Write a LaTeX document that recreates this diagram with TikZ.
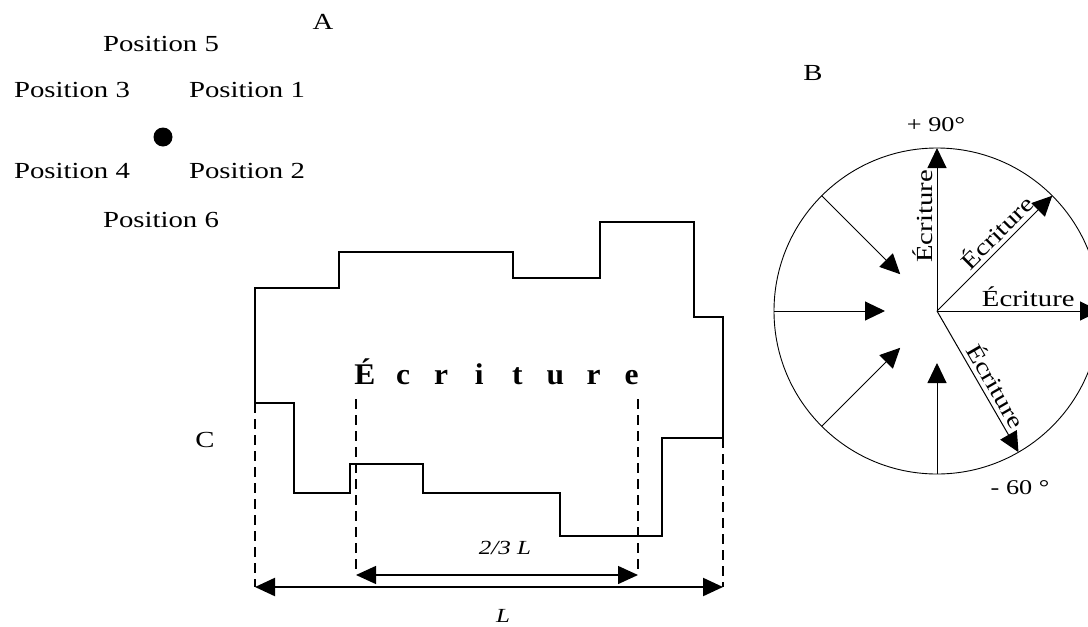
\documentclass[tikz,border=0pt]{standalone}
\usepackage{fontspec}
\setmainfont{Liberation Serif}[FakeStretch=1.25]
\newfontfamily\widefont{Liberation Serif}[FakeStretch=1.05]
\usetikzlibrary{arrows.meta}
\tikzset{
  tip/.style={-{Triangle[length=20pt,width=19pt]}, line width=1pt},
  dimarr/.style={{Triangle[length=20pt,width=18pt]}-{Triangle[length=20pt,width=18pt]}},
  cut/.style={dash pattern=on 10pt off 6pt, line width=1.3pt},
  every node/.style={font=\fontsize{23}{27}\selectfont, inner sep=1pt}}

\begin{document}
\begin{tikzpicture}[x=1pt,y=-1pt]
\useasboundingbox (0,0) rectangle (1088,627);
  \node (A) at (323,22) {A};
      \node (B) at (813,73) {B};
  \node (C) at (205,440) {C};
    \node (p5) at (161,44) {Position 5};
    \node (p3) at (72,90) {Position 3};
    \node (p1) at (247,90) {Position 1};
    \node (p4) at (72,171) {Position 4};
    \node (p2) at (247,171) {Position 2};
    \node (p6) at (161,220) {Position 6};
        \coordinate (dot) at (163,137);
    \fill (dot) circle (9.5);
  \draw[line width=1.6pt] (255,288) -- (339,288) -- (339,252) -- (513,252) -- (513,278)
     -- (600,278) -- (600,222) -- (694,222) -- (694,317) -- (723,317) -- (723,438)
     -- (662,438) -- (662,536) -- (560,536) -- (560,493) -- (423,493) -- (423,464)
     -- (350,464) -- (350,493) -- (294,493) -- (294,403) -- (255,403) -- cycle;
  \foreach \ch [count=\i] in {É,c,r,i,t,u,r,e}
     \node[anchor=base, font=\widefont\bfseries\fontsize{30}{33}\selectfont] (w\i) at ({365+(\i-1)*38.1},384) {\ch};
    \coordinate (la) at (255,587);
    \coordinate (lb) at (723,587);
    \coordinate (ma) at (356,575);
    \coordinate (mb) at (638,575);
        \draw[cut] (255,403) -- (la);
        \draw[cut] (356,399) -- (ma);
        \draw[cut] (638,399) -- (mb);
        \draw[cut] (723,438) -- (lb);
  \draw[dimarr, line width=2.2pt] (la) -- (lb);
  \draw[dimarr, line width=1.4pt] (ma) -- (mb);
  \node[font=\itshape\fontsize{20}{24}\selectfont] (twothird) at (505,548) {2/3 L};
  \node[font=\itshape\fontsize{20}{24}\selectfont] (len) at (503,616) {L};
      \coordinate (O) at (937,311);
  \draw[line width=0.9pt] (O) circle (163);
    \coordinate (t90) at ([shift={(90:163pt)}]O);
    \coordinate (t45) at ([shift={(45:163pt)}]O);
    \coordinate (t0) at ([shift={(0:163pt)}]O);
    \coordinate (tm60) at ([shift={(-60:163pt)}]O);
  \draw[tip] (O) -- (t90) node[pos=0.58, above=3pt, sloped] (e90) {Écriture};
  \draw[tip] (O) -- (t45) node[pos=0.6, above=3pt, sloped] (e45) {Écriture};
  \draw[tip] (O) -- (t0) node[pos=0.56, above=3pt] (e0) {Écriture};
  \draw[tip] (O) -- (tm60) node[pos=0.58, above=3pt, sloped] (em60) {Écriture};
  \foreach \a in {135,180,225,270} {
    \coordinate (s\a) at ([shift={(\a:163pt)}]O);
    \coordinate (n\a) at ([shift={(\a:52pt)}]O);
    \draw[tip] (s\a) -- (n\a);
  }
  \node[font=\fontsize{21}{25}\selectfont] (plus) at (936,125) {+ 90°};
  \node[font=\fontsize{21}{25}\selectfont] (minus) at (1020,488) {- 60 °};
\end{tikzpicture}
\end{document}
